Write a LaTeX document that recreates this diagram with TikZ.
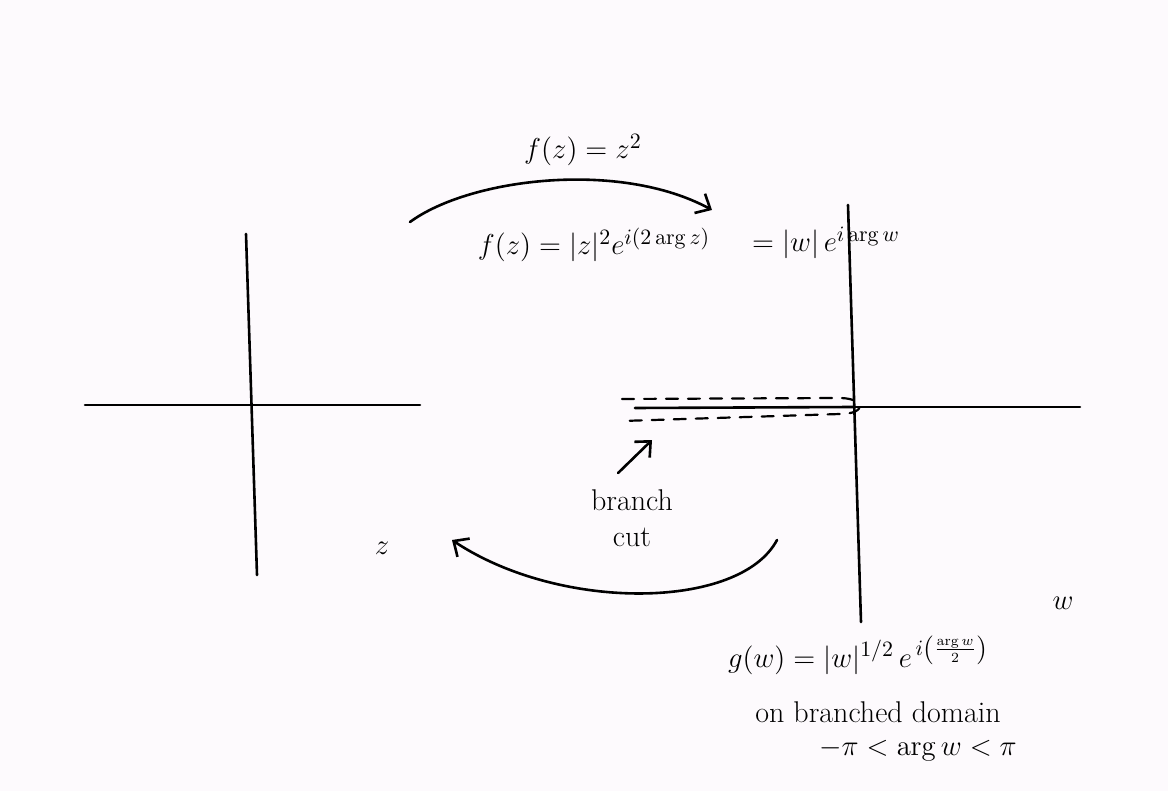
\documentclass[tikz,border=0pt]{standalone}
\usetikzlibrary{arrows.meta}
\definecolor{PageTint}{HTML}{FDFAFD}

\begin{document}
\begin{tikzpicture}[x=0.5pt,y=-0.5pt,line cap=round,line join=round,
  axis/.style={line width=1.3pt},
  sweep/.style={line width=1.3pt,-{Straight Barb[length=6pt,width=11pt]}},
  cutloop/.style={line width=1.1pt,dash pattern=on 6pt off 5pt},
  every node/.style={font=\fontsize{15}{18}\selectfont}]
  \fill[PageTint] (0,0) rectangle (1168,791);
  \useasboundingbox (0,0) rectangle (1168,791);
  % z-plane
  \coordinate (zW) at (85,405); \coordinate (zE) at (420,405);
  \coordinate (zN) at (246,234); \coordinate (zS) at (257,575);
  \draw[axis] (zW)--(zE); \draw[axis] (zN)--(zS);
  \node (zlab) at (382,548) {$z$};
  % w-plane, with the cut along the negative real axis
  \coordinate (wO) at (853,407); \coordinate (wE) at (1080,407);
  \coordinate (wN) at (848,205); \coordinate (wS) at (861,622);
  \coordinate (cutL) at (635,408);
  \draw[axis] (wO)--(wE); \draw[axis] (wN)--(wS); \draw[axis] (cutL)--(wO);
  \draw[cutloop] (622,399) -- (836,398) .. controls (866,397) and (868,414) .. (840,414) -- (622,421);
  \node (wlab) at (1063,603) {$w$};
  % maps
  \coordinate (fS) at (410,222); \coordinate (fE) at (712,210);
  \draw[sweep] (fS) .. controls (470,178) and (620,160) .. (fE);
  \node (fmap) at (583,150) {$f(z) = z^2$};
  \node (fpolar) at (594,245) {$f(z) = |z|^2 e^{i(2\arg z)}$};
  \node (wpolar) at (826,243) {$= |w|\,e^{i\arg w}$};
  \coordinate (gS) at (777,540); \coordinate (gE) at (452,540);
  \draw[sweep] (gS) .. controls (740,610) and (560,612) .. (gE);
  \node (gmap) at (858,655) {$g(w) = |w|^{1/2}\, e^{\,i\left(\frac{\arg w}{2}\right)}$};
  \node (dom) at (878,712) {on branched domain};
  \node (rng) at (918,750) {$-\pi < \arg w < \pi$};
  % label for the cut
  \node[align=center,inner sep=1pt] (cutlab) at (632,518) {branch\\cut};
  \coordinate (cutTip) at (652,440);
  \draw[sweep] (cutlab.north) ++(-14,-14) coordinate (cutTail) (cutTail) -- (cutTip);
\end{tikzpicture}
\end{document}
